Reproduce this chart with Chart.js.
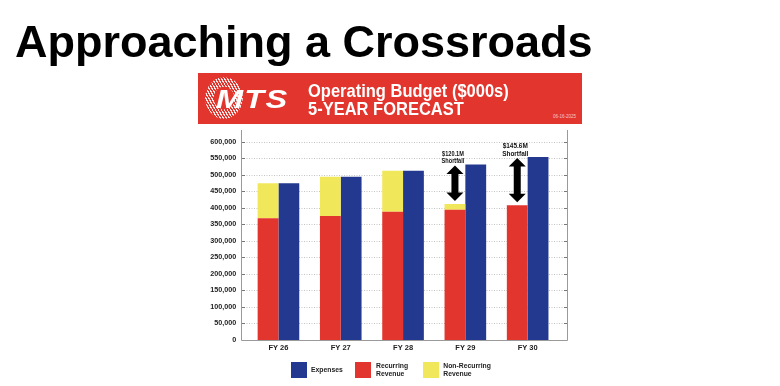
<!DOCTYPE html>
<html>
<head>
<meta charset="utf-8">
<script src="https://cdn.jsdelivr.net/npm/chart.js@4/dist/chart.umd.min.js"></script>
<style>
  html, body { margin: 0; padding: 0; background: #fff; }
  #wrap { position: relative; width: 780px; height: 386px; overflow: hidden; font-family: "Liberation Sans", Arial, sans-serif; }
  #c { position: absolute; left: 0; top: 0; }
  .abs { position: absolute; white-space: nowrap; line-height: 1; }
  #title { left: 15px; top: 18.6px; font-size: 45px; font-weight: bold; color: #000; }
  #banner { position: absolute; left: 198px; top: 73px; width: 384px; height: 51px; background: #e2352e; }
  .btxt { color: #fff; font-size: 16.5px; font-weight: bold; left: 308px; transform: scaleY(1.12); transform-origin: left bottom; }
  #ring { position: absolute; left: 205px; top: 77px; width: 38px; height: 42px; border-radius: 50%;
    background: repeating-linear-gradient(60deg, rgba(255,255,255,0.85) 0 1.2px, transparent 1.2px 2.6px);
    -webkit-mask: radial-gradient(closest-side, transparent 52%, #000 56%);
            mask: radial-gradient(closest-side, transparent 52%, #000 56%); }
  #mts { left: 216px; top: 87px; font-size: 25px; font-weight: bold; font-style: italic; color: #fff; transform: scaleX(1.3); transform-origin: left top; letter-spacing: 1px; }
  #date { left: 553px; top: 115px; font-size: 4.5px; color: #f7c9c6; }
  .sw { position: absolute; width: 16px; height: 16.5px; top: 361.7px; }
  .lg { position: absolute; font-size: 6.8px; font-weight: bold; color: #222; line-height: 8px; white-space: nowrap; }
</style>
</head>
<body>
<div id="wrap">
  <canvas id="c" width="780" height="386"></canvas>
  <div id="title" class="abs">Approaching a Crossroads</div>
  <div id="banner"></div>
  <div id="ring"></div>
  <div id="mts" class="abs">MTS</div>
  <div class="abs btxt" style="top:83px;">Operating Budget ($000s)</div>
  <div class="abs btxt" style="top:100.5px;">5-YEAR FORECAST</div>
  <div id="date" class="abs">06-16-2025</div>
  <div id="legend"></div>
</div>
<script>
// ---- data ----
const categories = ['FY 26', 'FY 27', 'FY 28', 'FY 29', 'FY 30'];
const expenses = [474000, 494000, 512000, 531000, 553000];
const recurringRevenue = [368000, 375000, 388000, 394000, 407400];
const nonRecurringRevenue = [106000, 119000, 124000, 17000, 0];
const shortfallLabels = ['', '', '', '$120.1M', '$145.6M'];
const legendLabels = ['Expenses', 'Recurring\nRevenue', 'Non-Recurring\nRevenue'];
const yTickValues = [0, 50000, 100000, 150000, 200000, 250000, 300000, 350000, 400000, 450000, 500000, 550000, 600000];

const COLORS = { exp: '#22398f', rec: '#e2352e', non: '#f1e75a' };

// ---- legend (HTML) ----
const legendSpec = [
  { color: COLORS.exp, sx: 290.7, tx: 311, label: legendLabels[0] },
  { color: COLORS.rec, sx: 355, tx: 376, label: legendLabels[1] },
  { color: COLORS.non, sx: 422.7, tx: 443.3, label: legendLabels[2] }
];
const legendEl = document.getElementById('legend');
legendSpec.forEach(s => {
  const sw = document.createElement('div');
  sw.className = 'sw';
  sw.style.left = s.sx + 'px';
  sw.style.background = s.color;
  legendEl.appendChild(sw);
  const lines = s.label.split('\n');
  const t = document.createElement('div');
  t.className = 'lg';
  t.style.left = s.tx + 'px';
  t.style.top = (370 - lines.length * 4) + 'px';
  lines.forEach((ln, i) => {
    if (i) t.appendChild(document.createElement('br'));
    t.appendChild(document.createTextNode(ln));
  });
  legendEl.appendChild(t);
});

// ---- plugins ----
const framePlugin = {
  id: 'frame',
  beforeDatasetsDraw(chart) {
    const { ctx, chartArea: a, scales: { y } } = chart;
    const L = Math.round(a.left - 6) + 0.5;
    const R = Math.round(a.right + 8) + 0.5;
    const B = Math.round(y.getPixelForValue(0)) + 0.5;
    ctx.save();
    ctx.strokeStyle = '#c4c4c4';
    ctx.lineWidth = 1;
    ctx.setLineDash([1, 1.5]);
    yTickValues.forEach(v => {
      if (!v) return;
      const py = Math.round(y.getPixelForValue(v)) + 0.5;
      ctx.beginPath(); ctx.moveTo(L, py); ctx.lineTo(R, py); ctx.stroke();
    });
    ctx.setLineDash([]);
    ctx.strokeStyle = '#777';
    yTickValues.forEach(v => {
      if (!v) return;
      const py = Math.round(y.getPixelForValue(v)) + 0.5;
      ctx.beginPath(); ctx.moveTo(L, py); ctx.lineTo(L + 3.5, py); ctx.stroke();
      ctx.beginPath(); ctx.moveTo(R - 3.5, py); ctx.lineTo(R, py); ctx.stroke();
    });
    ctx.strokeStyle = '#9a9a9a';
    ctx.beginPath();
    ctx.moveTo(L, a.top); ctx.lineTo(L, B); ctx.lineTo(R, B); ctx.lineTo(R, a.top);
    ctx.stroke();
    ctx.restore();
  }
};

const shortfallPlugin = {
  id: 'shortfall',
  afterDatasetsDraw(chart, args, opts) {
    const { ctx, scales: { y } } = chart;
    const meta = chart.getDatasetMeta(0);
    shortfallLabels.forEach((lbl, i) => {
      if (!lbl) return;
      const x = meta.data[i].x;
      const top = y.getPixelForValue(expenses[i]) + 1;
      const bot = y.getPixelForValue(recurringRevenue[i] + nonRecurringRevenue[i]) - 3;
      const hw = 8.5, hh = 8.5, sw = 3.5;
      ctx.save();
      ctx.fillStyle = '#000';
      ctx.beginPath();
      ctx.moveTo(x, top);
      ctx.lineTo(x + hw, top + hh);
      ctx.lineTo(x + sw, top + hh);
      ctx.lineTo(x + sw, bot - hh);
      ctx.lineTo(x + hw, bot - hh);
      ctx.lineTo(x, bot);
      ctx.lineTo(x - hw, bot - hh);
      ctx.lineTo(x - sw, bot - hh);
      ctx.lineTo(x - sw, top + hh);
      ctx.lineTo(x - hw, top + hh);
      ctx.closePath();
      ctx.fill();
      const fs = (opts.fontSizes && opts.fontSizes[i]) || 7;
      ctx.font = 'bold ' + fs + 'px "Liberation Sans", Arial, sans-serif';
      ctx.textAlign = 'center';
      ctx.textBaseline = 'alphabetic';
      ctx.fillStyle = '#111';
      const cx = x - 2;
      const base2 = top - 2;
      const base1 = base2 - fs * 1.1;
      ctx.translate(cx, 0);
      ctx.scale(0.85, 1);
      ctx.fillText(lbl, 0, base1);
      ctx.fillText('Shortfall', 0, base2);
      ctx.restore();
    });
  }
};

// ---- chart ----
new Chart(document.getElementById('c'), {
  type: 'bar',
  data: {
    labels: categories,
    datasets: [
      { label: 'Recurring Revenue', data: recurringRevenue, backgroundColor: COLORS.rec, stack: 'rev' },
      { label: 'Non-Recurring Revenue', data: nonRecurringRevenue, backgroundColor: COLORS.non, stack: 'rev' },
      { label: 'Expenses', data: expenses, backgroundColor: COLORS.exp, stack: 'exp' }
    ]
  },
  options: {
    responsive: false,
    animation: false,
    devicePixelRatio: 1,
    categoryPercentage: 0.668,
    barPercentage: 1.0,
    layout: { padding: { left: 187.3, right: 221.2, top: 130, bottom: 26 } },
    plugins: {
      legend: { display: false },
      tooltip: { enabled: false },
      shortfall: { fontSizes: { 3: 6.6, 4: 7.6 } }
    },
    scales: {
      x: {
        stacked: true,
        grid: { display: false, drawTicks: false },
        border: { display: false },
        ticks: { color: '#222', padding: 3, font: { family: '"Liberation Sans", Arial, sans-serif', size: 7.5, weight: 'bold' } },
        afterFit(s) { s.height = 20; }
      },
      y: {
        stacked: true,
        min: 0,
        max: 635000,
        grid: { display: false, drawTicks: false },
        border: { display: false },
        ticks: {
          autoSkip: false,
          padding: 11,
          color: '#222',
          font: { family: '"Liberation Sans", Arial, sans-serif', size: 7.2, weight: 'bold' },
          callback: v => Number(v).toLocaleString('en-US')
        },
        afterBuildTicks(s) { s.ticks = yTickValues.map(v => ({ value: v })); },
        afterFit(s) { s.width = 60; }
      }
    }
  },
  plugins: [framePlugin, shortfallPlugin]
});
</script>
</body>
</html>
